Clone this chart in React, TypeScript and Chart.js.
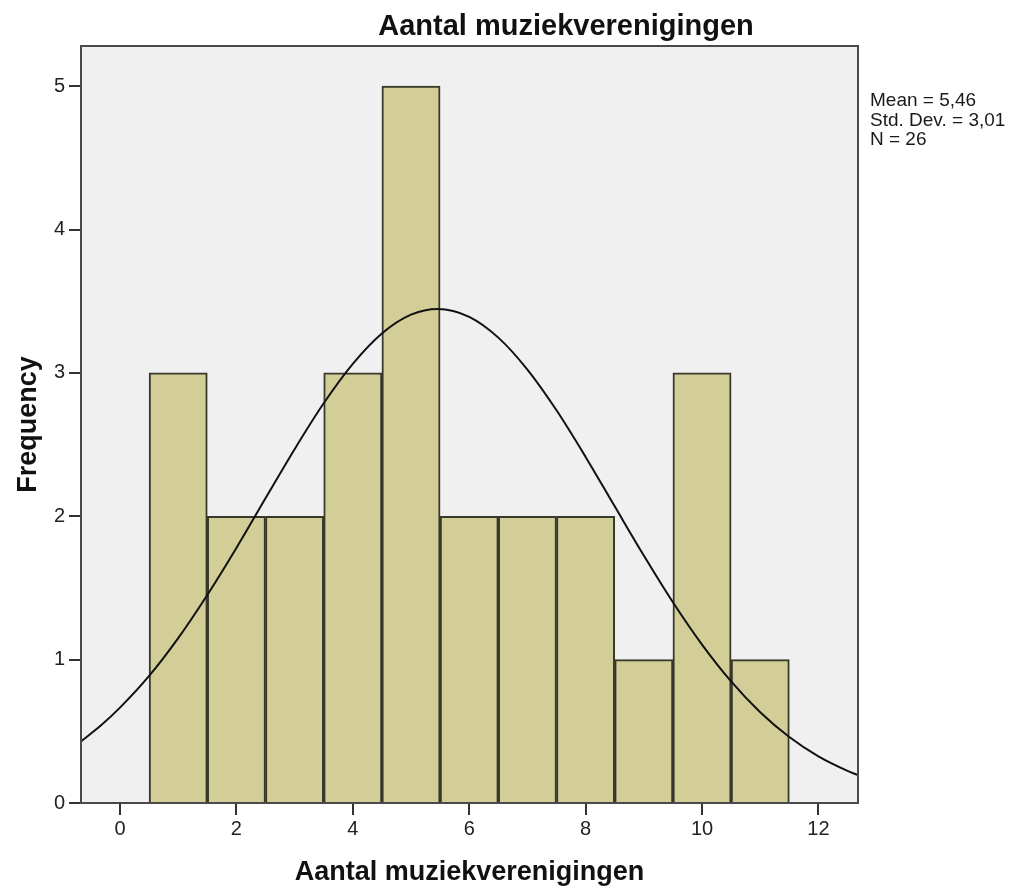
import React, { useEffect, useRef } from "react";
import { Chart, registerables } from "chart.js";

Chart.register(...registerables);

const binCenters = [1, 2, 3, 4, 5, 6, 7, 8, 9, 10, 11];
const frequencies = [3, 2, 2, 3, 5, 2, 2, 2, 1, 3, 1];

const curveX = [-0.67, -0.33, 0, 0.5, 1, 1.5, 2, 2.5, 3, 3.5, 4, 4.5, 5, 5.46, 6, 6.5, 7, 7.5, 8, 8.5, 9, 9.5, 10, 10.5, 11, 11.5, 12, 12.5, 12.68];
const curveY = [0.43, 0.54, 0.665, 0.886, 1.15, 1.451, 1.779, 2.125, 2.468, 2.788, 3.063, 3.275, 3.406, 3.446, 3.391, 3.246, 3.023, 2.739, 2.414, 2.069, 1.726, 1.4, 1.105, 0.848, 0.633, 0.46, 0.325, 0.224, 0.195];

const xTicks = [0, 2, 4, 6, 8, 10, 12];
const yTicks = [0, 1, 2, 3, 4, 5];

const titleText = "Aantal muziekverenigingen";
const xTitle = "Aantal muziekverenigingen";
const yTitle = "Frequency";
const statsLines = ["Mean = 5,46", "Std. Dev. = 3,01", "N = 26"];

const FONT = "'Liberation Sans', Arial, sans-serif";

export default function App() {
  const ref = useRef<HTMLCanvasElement | null>(null);

  useEffect(() => {
    const canvas = ref.current;
    if (!canvas) return;

    const decor = {
      id: "decor",
      beforeDatasetsDraw(chart: any) {
        const { ctx, chartArea } = chart;
        ctx.save();
        ctx.fillStyle = "#F0F0F0";
        ctx.fillRect(chartArea.left, chartArea.top, chartArea.right - chartArea.left, chartArea.bottom - chartArea.top);
        ctx.restore();
      },
      afterDatasetsDraw(chart: any) {
        const { ctx, chartArea } = chart;
        ctx.save();
        ctx.strokeStyle = "#4a4a4a";
        ctx.lineWidth = 2;
        ctx.strokeRect(chartArea.left, chartArea.top, chartArea.right - chartArea.left, chartArea.bottom - chartArea.top);
        ctx.restore();
      },
      afterDraw(chart: any) {
        const { ctx, chartArea } = chart;
        ctx.save();
        ctx.fillStyle = "#111";
        ctx.textAlign = "center";
        ctx.textBaseline = "alphabetic";
        ctx.font = `bold 29px ${FONT}`;
        ctx.fillText(titleText, 566, 35);
        ctx.font = `bold 27px ${FONT}`;
        ctx.fillText(xTitle, (chartArea.left + chartArea.right) / 2, 880);
        ctx.save();
        ctx.translate(36, 424.5);
        ctx.rotate(-Math.PI / 2);
        ctx.fillText(yTitle, 0, 0);
        ctx.restore();
        ctx.textAlign = "left";
        ctx.fillStyle = "#1a1a1a";
        ctx.font = `19px ${FONT}`;
        const baselines = [106, 126, 145];
        statsLines.forEach((s, i) => ctx.fillText(s, 870, baselines[i]));
        ctx.restore();
      },
    };

    const chart = new Chart(canvas, {
      type: "bar",
      data: {
        datasets: [
          {
            type: "line",
            data: curveX.map((x, i) => ({ x, y: curveY[i] })),
            borderColor: "#111",
            borderWidth: 2,
            pointRadius: 0,
            cubicInterpolationMode: "monotone",
            fill: false,
            order: 0,
          } as any,
          {
            type: "bar",
            data: binCenters.map((x, i) => ({ x, y: frequencies[i] })),
            backgroundColor: "#D3CE98",
            borderColor: "#38382a",
            borderWidth: 2,
            barPercentage: 1,
            categoryPercentage: 1,
            grouped: false,
            order: 1,
          } as any,
        ],
      },
      options: {
        animation: false,
        responsive: false,
        devicePixelRatio: 1,
        layout: { padding: { top: 46, right: 156, left: 0, bottom: 0 } },
        plugins: {
          legend: { display: false },
          title: { display: false },
          tooltip: { enabled: false },
        },
        scales: {
          x: {
            type: "linear",
            min: -0.67,
            max: 12.68,
            offset: false,
            afterFit(scale: any) {
              scale.height = 87;
            },
            afterBuildTicks(scale: any) {
              scale.ticks = xTicks.map((v) => ({ value: v }));
            },
            border: { display: false },
            grid: {
              offset: false,
              drawOnChartArea: false,
              drawTicks: true,
              tickLength: 12,
              color: "#333",
              lineWidth: 2,
            },
            ticks: {
              color: "#222",
              font: { family: FONT, size: 20 },
              padding: 2,
              maxRotation: 0,
            },
          },
          y: {
            type: "linear",
            min: 0,
            max: 5.28,
            afterFit(scale: any) {
              scale.width = 81;
            },
            afterBuildTicks(scale: any) {
              scale.ticks = yTicks.map((v) => ({ value: v }));
            },
            border: { display: false },
            grid: {
              drawOnChartArea: false,
              drawTicks: true,
              tickLength: 12,
              color: "#333",
              lineWidth: 2,
            },
            ticks: {
              color: "#222",
              font: { family: FONT, size: 20 },
              padding: 4,
            },
          },
        },
      } as any,
      plugins: [decor],
    });

    return () => chart.destroy();
  }, []);

  return (
    <div style={{ position: "absolute", left: 0, top: 0, width: 1014, height: 890, background: "#fff" }}>
      <canvas ref={ref} width={1014} height={890} style={{ display: "block", width: 1014, height: 890 }} />
    </div>
  );
}
